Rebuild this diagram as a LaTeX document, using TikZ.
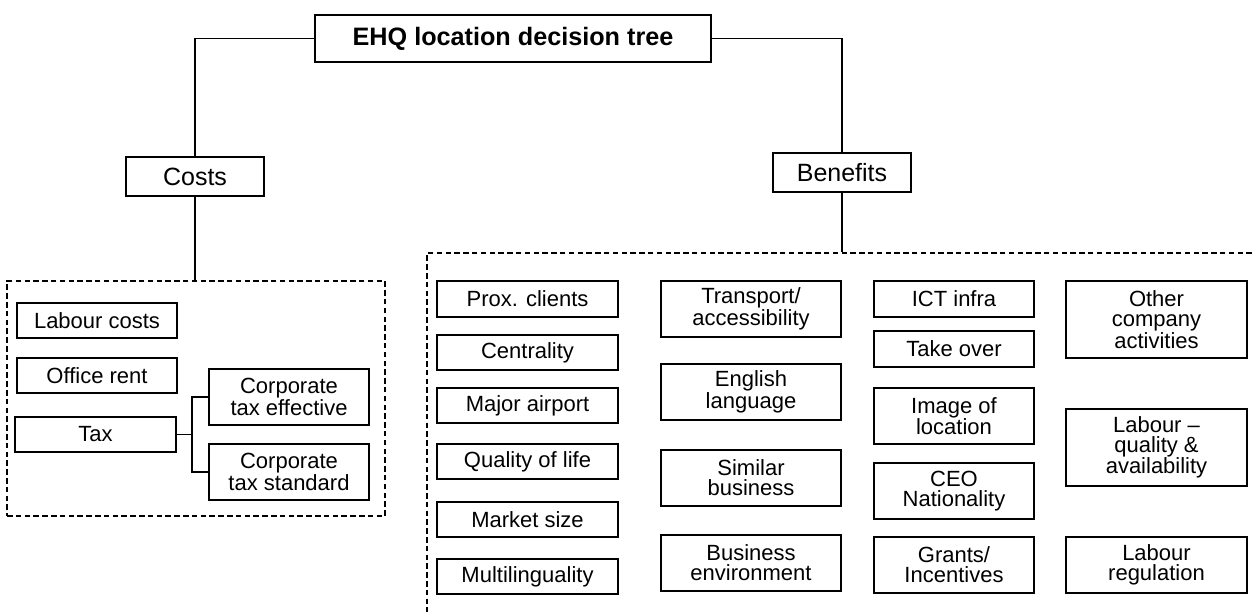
\documentclass[tikz,border=0pt]{standalone}
\usepackage{fontspec}
\setmainfont{Liberation Sans}
\begin{document}
\begin{tikzpicture}[x=1pt,y=-1pt,
  box/.style={draw, line width=2pt, rectangle, inner sep=0pt, align=center,
    font=\fontsize{22}{20}\selectfont},
  head/.style={box, font=\fontsize{25}{25}\selectfont},
  titlebox/.style={box, font=\bfseries\fontsize{25.2}{25}\selectfont},
  group/.style={draw, line width=2.6pt, dash pattern=on 5.5pt off 3.3pt, inner sep=0pt},
  link/.style={line width=1.4pt}]
\useasboundingbox (0,0) rectangle (1255,611);
\clip (0,0) rectangle (1255,611);

% root and the two main branches
\node[titlebox, minimum width=396, minimum height=47] (title) at (513,38.5) {EHQ location decision tree};
\node[head, minimum width=138, minimum height=39] (costs) at (195,176.5) {Costs};
\node[head, minimum width=138, minimum height=39] (benefits) at (842,172.5) {Benefits};

% dashed groups
\node[group, minimum width=378, minimum height=235] (cgroup) at (196,398.5) {};
\node[group, minimum width=838, minimum height=372] (bgroup) at (846,439) {};

% cost factors
\node[box, minimum width=160, minimum height=35] (labour) at (97,320.5) {Labour costs};
\node[box, minimum width=160, minimum height=35] (office) at (97,375.5) {Office rent};
\node[box, minimum width=161, minimum height=35] (tax) at (95.5,434.5) {Tax};
\node[box, minimum width=160, minimum height=56] (ce) at (289,397) {Corporate\\tax effective};
\node[box, minimum width=160, minimum height=56] (cs) at (289,472) {Corporate\\tax standard};
\coordinate (tj) at (192,434.5);

% benefit factors, first column
\node[box, minimum width=181, minimum height=36] (prox) at (527.5,299) {Prox. clients};
\node[box, minimum width=181, minimum height=35] (central) at (527.5,352.5) {Centrality};
\node[box, minimum width=181, minimum height=35] (airport) at (527.5,405.5) {Major airport};
\node[box, minimum width=181, minimum height=35] (qol) at (527.5,461.5) {Quality of life};
\node[box, minimum width=181, minimum height=35] (market) at (527.5,519.5) {Market size};
\node[box, minimum width=181, minimum height=35] (multi) at (527.5,576.5) {Multilinguality};

% second column
\node[box, minimum width=180, minimum height=56] (transport) at (751,309) {Transport/\\accessibility};
\node[box, minimum width=180, minimum height=56] (english) at (751,392) {English\\language};
\node[box, minimum width=180, minimum height=56] (similar) at (751,478) {Similar\\business};
\node[box, minimum width=180, minimum height=56] (busenv) at (751,563) {Business\\environment};

% third column
\node[box, minimum width=160, minimum height=36] (ict) at (954,299) {ICT infra};
\node[box, minimum width=160, minimum height=36] (takeover) at (954,349) {Take over};
\node[box, minimum width=160, minimum height=56] (image) at (954,416) {Image of\\location};
\node[box, minimum width=160, minimum height=56] (ceo) at (954,491) {CEO\\Nationality};
\node[box, minimum width=160, minimum height=56] (grants) at (954,565) {Grants/\\Incentives};

% fourth column
\node[box, minimum width=181, minimum height=77] (other) at (1156.5,319.5) {Other\\company\\activities};
\node[box, minimum width=181, minimum height=77] (labq) at (1156.5,447.5) {Labour –\\quality \&\\availability};
\node[box, minimum width=181, minimum height=56] (labreg) at (1156.5,565) {Labour\\regulation};

% connectors
\draw[link] (title.west) -| (costs.north);
\draw[link] (title.east) -| (benefits.north);
\draw[link] (costs.south) -- (costs.south |- cgroup.north);
\draw[link] (benefits.south) -- (benefits.south |- bgroup.north);
\draw[link] (tax.east) -- (tj);
\draw[link] (ce.west) -| (tj) |- (cs.west);
\end{tikzpicture}
\end{document}
